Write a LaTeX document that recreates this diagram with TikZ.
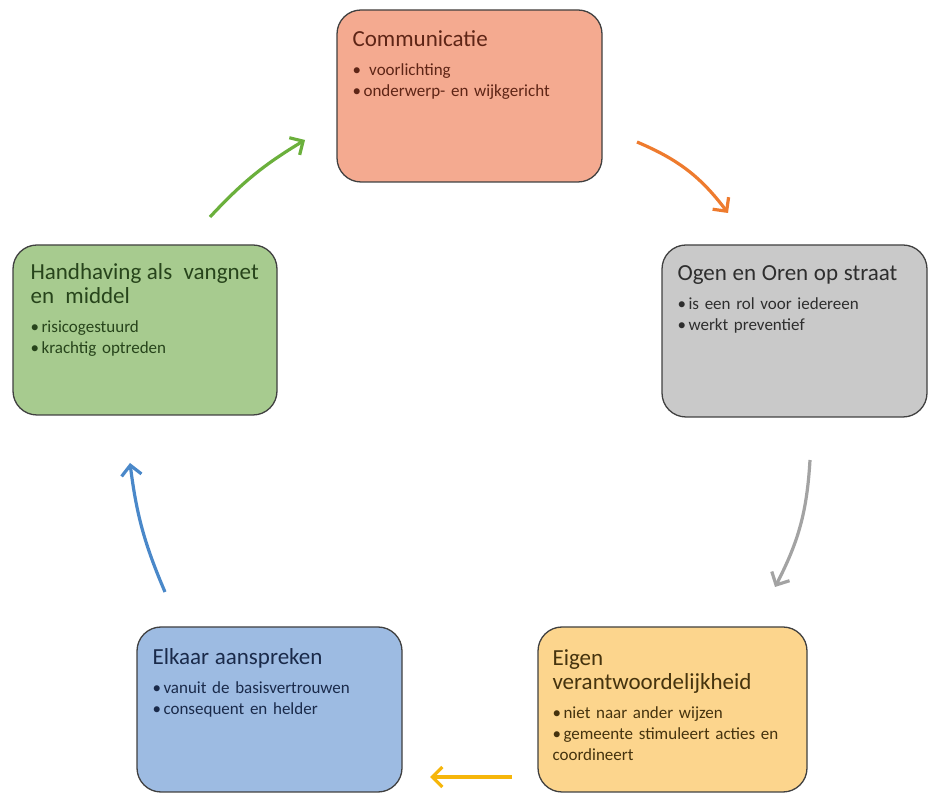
\documentclass[tikz,border=0pt]{standalone}
\usepackage{fontspec}
\setmainfont{Carlito}
\usepackage{xcolor}
\usetikzlibrary{positioning,arrows.meta}
\definecolor{comvul}{HTML}{F4AA90}
\definecolor{comtekst}{HTML}{5E2516}
\definecolor{ogenvul}{HTML}{C9C9C9}
\definecolor{ogentekst}{HTML}{2E2E2E}
\definecolor{handvul}{HTML}{A7CB8F}
\definecolor{handtekst}{HTML}{27441B}
\definecolor{elkvul}{HTML}{9DBBE2}
\definecolor{elktekst}{HTML}{1A2A4A}
\definecolor{eigvul}{HTML}{FCD58D}
\definecolor{eigtekst}{HTML}{45330E}
\definecolor{pijlgroen}{HTML}{6BB03C}
\definecolor{pijloranje}{HTML}{EE7B2E}
\definecolor{pijlgrijs}{HTML}{A3A3A3}
\definecolor{pijlgeel}{HTML}{F6B60A}
\definecolor{pijlblauw}{HTML}{4A88C9}
\tikzset{blok/.style={draw=black!75, line width=1.3pt, rounded corners=24pt},
  bloktekst/.style={anchor=north west, inner sep=0pt, text width=245pt, align=left,
    font=\fontsize{17}{21}\selectfont},
  pijl/.style={->, >={Straight Barb[length=10pt,width=20pt]}, line width=3.2pt}}
\newcommand{\titel}[1]{{\fontsize{23}{24}\selectfont #1\par}\vspace{8pt}}
\newcommand{\punt}[1]{\par\hangindent=11pt\hangafter=1\noindent\makebox[11pt][l]{\textbullet}#1}

\begin{document}
\begin{tikzpicture}[x=1pt,y=1pt]
\useasboundingbox (0,0) rectangle (932,795);
% de vijf blokken
\node[blok, fill=comvul, minimum width=265pt, minimum height=172pt] (comm) at (469.5,699) {};
\node[blok, fill=ogenvul, minimum width=265pt, minimum height=172pt] (ogen) at (794.5,464) {};
\node[blok, fill=handvul, minimum width=264pt, minimum height=170pt] (hand) at (145,465) {};
\node[blok, fill=elkvul, minimum width=265pt, minimum height=165pt] (elk) at (269.5,85.5) {};
\node[blok, fill=eigvul, minimum width=269pt, minimum height=165pt] (eig) at (672.5,85.5) {};
% teksten
\node[bloktekst, text=comtekst] (commtxt) at ([xshift=16pt,yshift=-21pt]comm.north west)
  {\titel{Communicatie}\punt{ voorlichting}\punt{onderwerp- en wijkgericht}};
\node[bloktekst, text=ogentekst] (ogentxt) at ([xshift=16pt,yshift=-21pt]ogen.north west)
  {\titel{Ogen en Oren op straat}\punt{is een rol voor iedereen}\punt{werkt preventief}};
\node[bloktekst, text=handtekst] (handtxt) at ([xshift=18pt,yshift=-19pt]hand.north west)
  {\titel{Handhaving als~ vangnet\newline en~ middel}\punt{risicogestuurd}\punt{krachtig optreden}};
\node[bloktekst, text=elktekst] (elktxt) at ([xshift=16pt,yshift=-22pt]elk.north west)
  {\titel{Elkaar aanspreken}\punt{vanuit de basisvertrouwen}\punt{consequent en helder}};
\node[bloktekst, text=eigtekst] (eigtxt) at ([xshift=15pt,yshift=-23pt]eig.north west)
  {\titel{Eigen\newline verantwoordelijkheid}\punt{niet naar ander wijzen}\punt{gemeente stimuleert acties en\newline coordineert}};
% pijlen
\coordinate (g1) at (210,578);
\coordinate (g2) at (305,655);
\coordinate (o1) at (637,653);
\coordinate (o2) at (728,582);
\coordinate (r1) at (810,335);
\coordinate (r2) at (775,208);
\coordinate (y1) at (512,18);
\coordinate (y2) at (430,18);
\coordinate (b1) at (165,203);
\coordinate (b2) at (130,332);
\draw[pijl, pijlgroen] (g1) to[bend left=8] (g2);
\draw[pijl, pijloranje] (o1) to[bend left=15] (o2);
\draw[pijl, pijlgrijs] (r1) to[bend left=12] (r2);
\draw[pijl, pijlgeel] (y1) -- (y2);
\draw[pijl, pijlblauw] (b1) to[bend left=8] (b2);
\end{tikzpicture}
\end{document}
